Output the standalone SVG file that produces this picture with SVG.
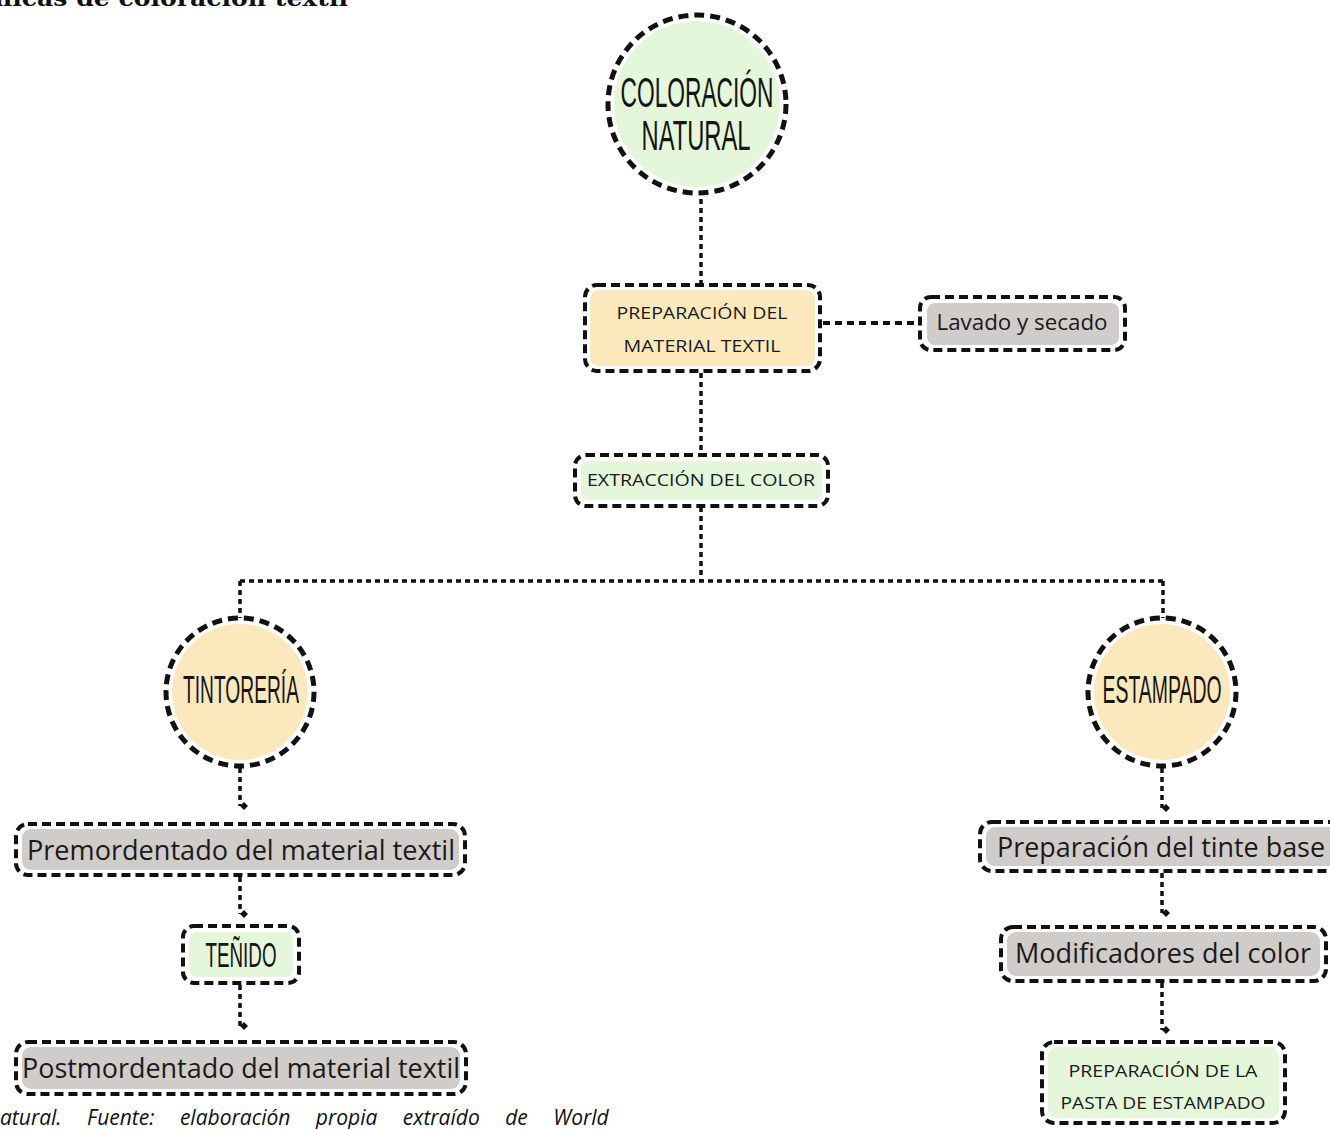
<svg xmlns="http://www.w3.org/2000/svg" width="1330" height="1129" viewBox="0 0 1330 1129">
<defs>
<style>
.frame{fill:none;stroke:#111;stroke-width:4;stroke-dasharray:9 5}
.cframe{fill:none;stroke:#111;stroke-width:5;stroke-dasharray:10 6}
.fy{fill:#FBE9BD}
.fg{fill:#E5F7DA}
.fn{fill:#D0CCC9}
.link{fill:none;stroke:#111;stroke-width:3.5;stroke-dasharray:5 4}
.link2{fill:none;stroke:#111;stroke-width:4;stroke-dasharray:7 5}
.cond{font-family:"Liberation Sans Narrow","Liberation Sans",sans-serif;fill:#151515;text-anchor:middle}
.body{font-family:"Open Sans","Noto Sans",sans-serif;fill:#1a1a1a;text-anchor:middle}
</style>
<marker id="arr" viewBox="-5 -6 10 12" markerWidth="10" markerHeight="12" refX="0" refY="4" orient="auto-start-reverse" markerUnits="userSpaceOnUse">
<path d="M-4,0 L0,-4 L4,0 L0,4 Z" fill="#111" transform="rotate(-90)"/>
</marker>
</defs>
<rect width="1330" height="1129" fill="#fff"/>
<text x="-6" y="6" font-family="'DejaVu Serif','Liberation Serif',serif" font-weight="bold" font-size="22" textLength="354" lengthAdjust="spacingAndGlyphs" fill="#111">nicas de coloración textil</text>
<text x="0" y="1125" font-family="'Open Sans','Noto Sans',sans-serif" font-style="italic" font-size="21" word-spacing="20" fill="#111">atural. Fuente: elaboración propia extraído de World</text>

<g id="connectors">
<path class="link" d="M701,199 V285"/>
<path class="link2" d="M823,323 H918"/>
<path class="link" d="M701,373 V455"/>
<path class="link" d="M701,507 V581"/>
<path class="link" d="M240,581 H1163"/>
<path class="link" d="M240,581 V618"/>
<path class="link" d="M1163,581 V618"/>
<path class="link" d="M240,768 V806" marker-end="url(#arr)"/>
<path class="link" d="M240,877 V914" marker-end="url(#arr)"/>
<path class="link" d="M240,985 V1026" marker-end="url(#arr)"/>
<path class="link" d="M1162,768 V808" marker-end="url(#arr)"/>
<path class="link" d="M1162,873 V913" marker-end="url(#arr)"/>
<path class="link" d="M1162,983 V1030" marker-end="url(#arr)"/>
</g>

<g id="coloracion-natural">
<circle cx="697" cy="104" r="83" class="fg"/>
<circle cx="697" cy="104" r="89" class="cframe"/>
<text class="cond" x="697" y="107" font-size="42" textLength="153" lengthAdjust="spacingAndGlyphs">COLORACIÓN</text>
<text class="cond" x="696" y="150" font-size="42" textLength="109" lengthAdjust="spacingAndGlyphs">NATURAL</text>
</g>

<g id="preparacion-material">
<rect x="590" y="290" width="225" height="76" rx="9" class="fy"/>
<rect x="585" y="285" width="235" height="86" rx="12" class="frame"/>
<text class="body" x="702" y="319" font-size="16.5" textLength="171" lengthAdjust="spacingAndGlyphs">PREPARACIÓN DEL</text>
<text class="body" x="702" y="352" font-size="16.5" textLength="157" lengthAdjust="spacingAndGlyphs">MATERIAL TEXTIL</text>
</g>

<g id="lavado">
<rect x="927" y="303" width="192" height="42" rx="8" class="fn"/>
<rect x="920" y="297" width="205" height="53" rx="11" class="frame"/>
<text class="body" x="1022" y="330" font-size="21" textLength="171" lengthAdjust="spacingAndGlyphs">Lavado y secado</text>
</g>

<g id="extraccion">
<rect x="581" y="461" width="241" height="39" rx="8" class="fg"/>
<rect x="575" y="455" width="253" height="51" rx="11" class="frame"/>
<text class="body" x="701" y="486" font-size="17" textLength="228" lengthAdjust="spacingAndGlyphs">EXTRACCIÓN DEL COLOR</text>
</g>

<g id="tintoreria">
<circle cx="240" cy="692" r="68" class="fy"/>
<circle cx="240" cy="692" r="74" class="cframe"/>
<text class="cond" x="241" y="703" font-size="38" textLength="116" lengthAdjust="spacingAndGlyphs">TINTORERÍA</text>
</g>

<g id="estampado">
<circle cx="1162" cy="692" r="68" class="fy"/>
<circle cx="1162" cy="692" r="74" class="cframe"/>
<text class="cond" x="1162" y="703" font-size="38" textLength="119" lengthAdjust="spacingAndGlyphs">ESTAMPADO</text>
</g>

<g id="premordentado">
<rect x="22" y="829" width="437" height="41" rx="9" class="fn"/>
<rect x="16" y="824" width="449" height="51" rx="12" class="frame"/>
<text class="body" x="241" y="860" font-size="28" textLength="428" lengthAdjust="spacingAndGlyphs">Premordentado del material textil</text>
</g>

<g id="tenido">
<rect x="189" y="932" width="104" height="45" rx="8" class="fg"/>
<rect x="183" y="926" width="116" height="57" rx="11" class="frame"/>
<text class="cond" x="241" y="967" font-size="35" textLength="71" lengthAdjust="spacingAndGlyphs">TEÑIDO</text>
</g>

<g id="postmordentado">
<rect x="22" y="1047" width="438" height="42" rx="9" class="fn"/>
<rect x="16" y="1042" width="450" height="52" rx="12" class="frame"/>
<text class="body" x="241" y="1078" font-size="28" textLength="438" lengthAdjust="spacingAndGlyphs">Postmordentado del material textil</text>
</g>

<g id="tinte-base">
<rect x="986" y="827" width="360" height="39" rx="9" class="fn"/>
<rect x="980" y="822" width="370" height="49" rx="12" class="frame"/>
<text class="body" x="997" y="857" font-size="27" textLength="328" lengthAdjust="spacingAndGlyphs" style="text-anchor:start">Preparación del tinte base</text>
</g>

<g id="modificadores">
<rect x="1007" y="932" width="313" height="44" rx="9" class="fn"/>
<rect x="1001" y="927" width="325" height="54" rx="12" class="frame"/>
<text class="body" x="1163" y="963" font-size="27" textLength="296" lengthAdjust="spacingAndGlyphs">Modificadores del color</text>
</g>

<g id="pasta">
<rect x="1048" y="1047" width="231" height="71" rx="9" class="fg"/>
<rect x="1042" y="1042" width="243" height="81" rx="12" class="frame"/>
<text class="body" x="1163" y="1077" font-size="17" textLength="189" lengthAdjust="spacingAndGlyphs">PREPARACIÓN DE LA</text>
<text class="body" x="1163" y="1109" font-size="17" textLength="205" lengthAdjust="spacingAndGlyphs">PASTA DE ESTAMPADO</text>
</g>
</svg>
